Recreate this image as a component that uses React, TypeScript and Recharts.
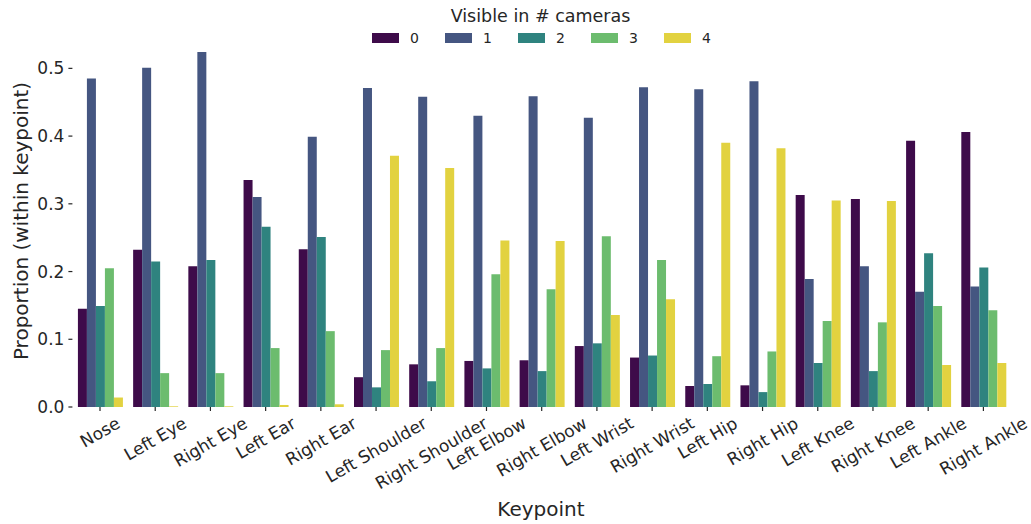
import { BarChart, Bar, XAxis, YAxis, Legend, Label } from 'recharts';

const keypoints = [
  'Nose', 'Left Eye', 'Right Eye', 'Left Ear', 'Right Ear', 'Left Shoulder', 'Right Shoulder',
  'Left Elbow', 'Right Elbow', 'Left Wrist', 'Right Wrist', 'Left Hip', 'Right Hip',
  'Left Knee', 'Right Knee', 'Left Ankle', 'Right Ankle',
];

// proportion of frames where the keypoint is visible in N cameras
const cams0 = [0.145, 0.232, 0.208, 0.335, 0.233, 0.044, 0.063, 0.068, 0.069, 0.090, 0.073, 0.031, 0.032, 0.313, 0.307, 0.393, 0.406];
const cams1 = [0.485, 0.501, 0.524, 0.310, 0.399, 0.471, 0.458, 0.430, 0.459, 0.427, 0.472, 0.469, 0.481, 0.189, 0.208, 0.170, 0.178];
const cams2 = [0.149, 0.215, 0.217, 0.266, 0.251, 0.029, 0.038, 0.057, 0.053, 0.094, 0.076, 0.034, 0.022, 0.065, 0.053, 0.227, 0.206];
const cams3 = [0.205, 0.050, 0.050, 0.087, 0.112, 0.084, 0.087, 0.196, 0.174, 0.252, 0.217, 0.075, 0.082, 0.127, 0.125, 0.149, 0.143];
const cams4 = [0.014, 0.001, 0.001, 0.003, 0.004, 0.371, 0.353, 0.246, 0.245, 0.136, 0.159, 0.390, 0.382, 0.305, 0.304, 0.062, 0.065];

const camLabels = ['0', '1', '2', '3', '4'];
const camColors = ['#3e0b4a', '#455681', '#2f837f', '#6cbc6e', '#e2d240'];
const yTicks = [0, 0.1, 0.2, 0.3, 0.4, 0.5];

const allSeries = [cams0, cams1, cams2, cams3, cams4];
const data = keypoints.map((name, i) => {
  const row: Record<string, string | number> = { name };
  allSeries.forEach((s, j) => { row['c' + j] = s[i]; });
  return row;
});

const FONT = '"DejaVu Sans", "Liberation Sans", sans-serif';
const INK = '#262626';

let ctx: CanvasRenderingContext2D | null = null;
function textWidth(s: string, size: number) {
  if (!ctx) ctx = document.createElement('canvas').getContext('2d');
  if (!ctx) return s.length * size * 0.6;
  ctx.font = `${size}px ${FONT}`;
  return ctx.measureText(s).width;
}

function KeypointTick({ x, y, payload }: any) {
  const w = textWidth(payload.value, 17);
  const h = w * 0.5 + 19.8 * 0.866;
  const cy = y + h / 2;
  return (
    <text x={x} y={cy} textAnchor="middle" dominantBaseline="central" fontSize={17} fill={INK}
      fontFamily={FONT} transform={`rotate(-30 ${x} ${cy})`}>
      {payload.value}
    </text>
  );
}

function CamLegend() {
  return (
    <div style={{ position: 'relative', width: 1031, height: 50, fontFamily: FONT, color: INK }}>
      <div style={{ position: 'absolute', left: 0, width: 1081, top: 5, textAlign: 'center', fontSize: 17.5, lineHeight: '22px' }}>
        Visible in # cameras
      </div>
      {camLabels.map((c, i) => (
        <div key={c} style={{ position: 'absolute', left: 372 + i * 73, top: 31, display: 'flex', alignItems: 'center' }}>
          <div style={{ width: 27, height: 10, background: camColors[i] }} />
          <span style={{ marginLeft: 11, fontSize: 14, lineHeight: '14px' }}>{c}</span>
        </div>
      ))}
    </div>
  );
}

export default function App() {
  return (
    <div style={{ position: 'absolute', left: 0, top: 0, background: '#fff' }}>
      <BarChart width={1031} height={524} data={data} barCategoryGap="10%" barGap={0}
        margin={{ top: 34.5, right: 20, bottom: 0, left: 0.4 }}>
        <XAxis dataKey="name" axisLine={false} tickSize={4} tickMargin={2} height={117} interval={0}
          tickLine={{ stroke: INK, strokeWidth: 1.2 }} tick={<KeypointTick />}>
          <Label content={() => (
            <text x={541} y={516} textAnchor="middle" fontSize={20} fill={INK} fontFamily={FONT}>Keypoint</text>
          )} />
        </XAxis>
        <YAxis domain={[0, 0.55]} ticks={yTicks} width={72} axisLine={false} tickSize={4} tickMargin={4}
          tickLine={{ stroke: INK, strokeWidth: 1.2 }} tickFormatter={(v: number) => v.toFixed(1)}
          tick={{ fontSize: 17, fill: INK, fontFamily: FONT }}>
          <Label content={() => (
            <text x={21} y={221} textAnchor="middle" dominantBaseline="central" fontSize={20} fill={INK}
              fontFamily={FONT} transform="rotate(-90 21 221)">Proportion (within keypoint)</text>
          )} />
        </YAxis>
        <Legend verticalAlign="middle" layout="horizontal" content={<CamLegend />}
          wrapperStyle={{ top: 0, left: 0, width: 1031, height: 50 }} />
        {camLabels.map((c, i) => (
          <Bar key={c} dataKey={'c' + i} name={c} fill={camColors[i]} isAnimationActive={false} />
        ))}
      </BarChart>
    </div>
  );
}
